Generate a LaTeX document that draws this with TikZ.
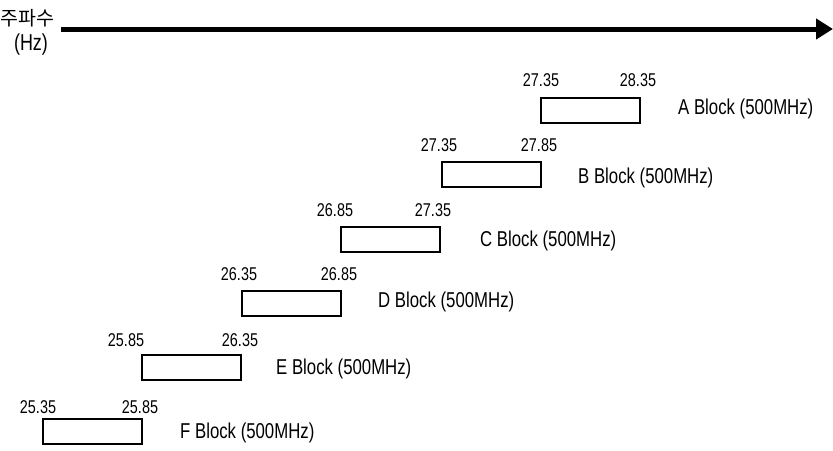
\documentclass[tikz,border=0pt]{standalone}
\usepackage{fontspec}
\setmainfont{Liberation Sans}[FakeStretch=0.78]
\newfontfamily\krfont{Noto Sans CJK KR}
\usetikzlibrary{arrows.meta}
\begin{document}
\begin{tikzpicture}[x=1pt,y=-1pt,
  blk/.style={draw=black,line width=2pt,fill=white,minimum width=99pt,minimum height=25pt,inner sep=0pt,anchor=north west},
  num/.style={font=\fontsize{18.5}{20}\selectfont,inner sep=0pt},
  lbl/.style={font=\fontsize{21.5}{23}\selectfont,inner sep=0pt,anchor=west}]
\useasboundingbox (0,0) rectangle (833,450);
\node[font=\krfont\fontsize{19.5}{20}\selectfont,inner sep=0pt,anchor=west] (kr) at (0,18) {주파수};
\node[font=\fontsize{23}{24}\selectfont,inner sep=0pt] (hz) at (31,45) {(Hz)};
\coordinate (a0) at (61,29);
\coordinate (a1) at (833,29);
\draw[line width=5pt,-{Triangle[length=17pt,width=20pt]}] (a0) -- (a1);

\node[blk] (A) at (540,97) {};
\node[blk] (B) at (441,161) {};
\node[blk] (C) at (340,226) {};
\node[blk] (D) at (241,290) {};
\node[blk] (E) at (141,354) {};
\node[blk] (F) at (42,418) {};

\node[num] (A1) at (541,80) {27.35};
\node[num] (A2) at (638,80) {28.35};
\node[num] (B1) at (439,145) {27.35};
\node[num] (B2) at (539,145) {27.85};
\node[num] (C1) at (335,210) {26.85};
\node[num] (C2) at (433,210) {27.35};
\node[num] (D1) at (239,274) {26.35};
\node[num] (D2) at (339,274) {26.85};
\node[num] (E1) at (126,340) {25.85};
\node[num] (E2) at (240,340) {26.35};
\node[num] (F1) at (38,407) {25.35};
\node[num] (F2) at (140,407) {25.85};

\node[lbl] (AL) at (678,109) {A Block (500MHz)};
\node[lbl] (BL) at (578,178) {B Block (500MHz)};
\node[lbl] (CL) at (480,241) {C Block (500MHz)};
\node[lbl] (DL) at (378,302) {D Block (500MHz)};
\node[lbl] (EL) at (276,369) {E Block (500MHz)};
\node[lbl] (FL) at (180,433) {F Block (500MHz)};
\end{tikzpicture}
\end{document}
